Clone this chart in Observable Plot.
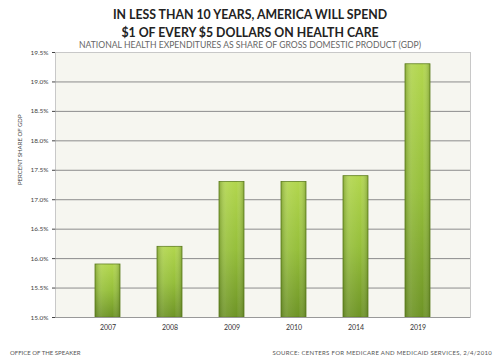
<!DOCTYPE html>
<html><head><meta charset="utf-8">
<script src="https://cdn.jsdelivr.net/npm/d3@7"></script>
<script src="https://cdn.jsdelivr.net/npm/@observablehq/plot@0.6"></script>
<style>
body{margin:0;background:#fff;width:500px;height:362px;overflow:hidden;font-family:Lato,"Open Sans",sans-serif;}
#title{position:absolute;left:0;top:6px;width:500px;text-align:center;font-weight:bold;font-size:12.3px;line-height:18px;color:#222;}
#sub{position:absolute;left:0;top:40px;width:500px;text-align:center;font-size:8.6px;line-height:10px;color:#666;}
#chart{position:absolute;left:0;top:48px;}
#f1{position:absolute;left:10px;top:349px;font-size:6px;color:#555;}
#f2{position:absolute;right:8px;top:349px;font-size:6px;color:#555;letter-spacing:0.3px}
</style></head><body>
<div id="title">IN LESS THAN 10 YEARS, AMERICA WILL SPEND<br>$1 OF EVERY $5 DOLLARS ON HEALTH CARE</div>
<div id="sub">NATIONAL HEALTH EXPENDITURES AS SHARE OF GROSS DOMESTIC PRODUCT (GDP)</div>
<div id="chart"></div>
<div id="f1">OFFICE OF THE SPEAKER</div>
<div id="f2">SOURCE: CENTERS FOR MEDICARE AND MEDICAID SERVICES, 2/4/2010</div>
<script>
const years = ["2007","2008","2009","2010","2014","2019"];
const shares = [15.9, 16.2, 17.3, 17.3, 17.4, 19.3];
const yTicks = [15.0, 15.5, 16.0, 16.5, 17.0, 17.5, 18.0, 18.5, 19.0, 19.5];
const yLabel = "PERCENT SHARE OF GDP";

const data = years.map((y, i) => ({year: y, value: shares[i]}));

const svg = Plot.plot({
  width: 500,
  height: 292,
  marginLeft: 55,
  marginRight: 30,
  marginTop: 4,
  marginBottom: 23,
  style: {fontFamily: "Lato, 'Open Sans', sans-serif", fontSize: "6.5px", color: "#444", background: "transparent"},
  x: {domain: years, padding: 0.6, label: null, tickSize: 0, tickPadding: 8},
  y: {domain: [15, 19.5], ticks: yTicks, tickFormat: d => d.toFixed(1) + "%", label: null, tickSize: 3, tickPadding: 4},
  marks: [
    Plot.frame({fill: "#f6f6f0", stroke: "#c8c8c8"}),
    Plot.ruleY(yTicks.slice(1, -1), {stroke: "#8c8c8c", strokeWidth: 1}),
    Plot.barY(data, {x: "year", y1: 15, y2: "value", fill: "url(#gV)", stroke: "#5d7d1c", strokeWidth: 0.8}),
    Plot.barY(data, {x: "year", y1: 15, y2: "value", fill: "url(#gH)"}),
    Plot.ruleY([15], {stroke: "#999"}),
    Plot.axisX({tickSize: 0, tickPadding: 8, fontSize: 7, fill: "#333"}),
    Plot.axisY({ticks: yTicks, tickFormat: d => d.toFixed(1) + "%", tickSize: 3, tickPadding: 4, fontSize: 6.5, label: null, fill: "#444"}),
    Plot.text([yLabel], {frameAnchor: "left", dx: -35, rotate: -90, fontSize: 6, fill: "#444"})
  ]
});
d3.select(svg).insert("defs", ":first-child").html(`
<linearGradient id="gV" x1="0" y1="0" x2="0" y2="1">
<stop offset="0" stop-color="#b2d64e"/><stop offset="0.5" stop-color="#96bf3b"/><stop offset="1" stop-color="#6e9426"/>
</linearGradient>
<linearGradient id="gH" x1="0" y1="0" x2="1" y2="0">
<stop offset="0" stop-color="#3e5a10" stop-opacity="0.35"/><stop offset="0.3" stop-color="#ffffff" stop-opacity="0.08"/>
<stop offset="0.7" stop-color="#ffffff" stop-opacity="0"/><stop offset="1" stop-color="#3e5a10" stop-opacity="0.35"/>
</linearGradient>`);
document.getElementById("chart").appendChild(svg);
</script>
</body></html>
